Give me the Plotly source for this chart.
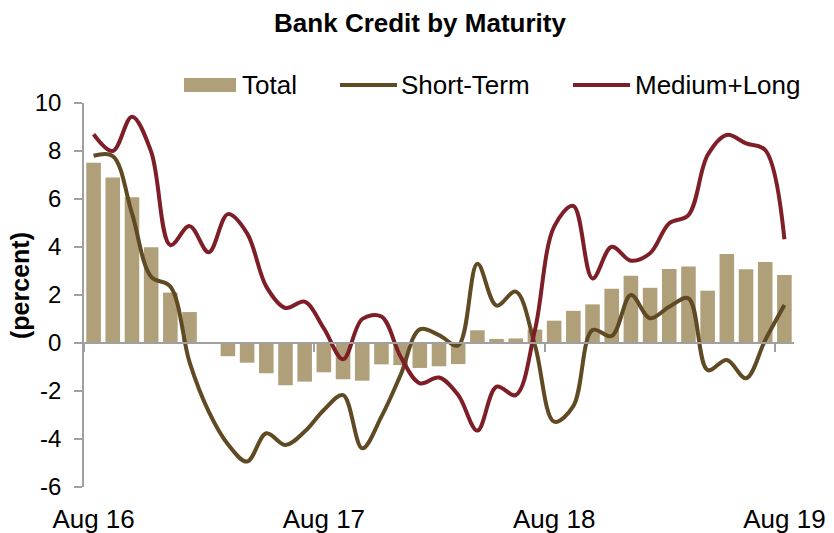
import plotly.graph_objects as go

# Monthly observations, Aug 2016 - Aug 2019
months = [
    "Aug 16", "Sep 16", "Oct 16", "Nov 16", "Dec 16", "Jan 17", "Feb 17", "Mar 17",
    "Apr 17", "May 17", "Jun 17", "Jul 17", "Aug 17", "Sep 17", "Oct 17", "Nov 17",
    "Dec 17", "Jan 18", "Feb 18", "Mar 18", "Apr 18", "May 18", "Jun 18", "Jul 18",
    "Aug 18", "Sep 18", "Oct 18", "Nov 18", "Dec 18", "Jan 19", "Feb 19", "Mar 19",
    "Apr 19", "May 19", "Jun 19", "Jul 19", "Aug 19",
]

total = [
    7.51, 6.90, 6.07, 3.99, 2.10, 1.29, 0.0, -0.55, -0.82, -1.26, -1.76, -1.61,
    -1.22, -1.51, -1.57, -0.89, -0.92, -1.04, -0.97, -0.88, 0.53, 0.17, 0.19, 0.56,
    0.93, 1.34, 1.61, 2.26, 2.80, 2.30, 3.08, 3.19, 2.18, 3.71, 3.07, 3.37, 2.83,
]

short_term = [
    7.80, 7.79, 5.40, 2.76, 2.35, -0.80, -2.86, -4.22, -4.94, -3.76, -4.25, -3.69,
    -2.79, -2.17, -4.39, -3.07, -1.33, 0.57, 0.33, -0.10, 3.30, 1.56, 2.14, -0.10,
    -3.28, -2.63, 0.54, 0.29, 2.00, 1.03, 1.51, 1.86, -1.13, -0.71, -1.47, 0.12, 1.58,
]

medium_long = [
    8.70, 8.00, 9.43, 7.97, 4.08, 4.87, 3.78, 5.37, 4.57, 2.35, 1.46, 1.72,
    0.61, -0.68, 1.00, 1.10, -0.57, -1.68, -1.44, -2.17, -3.65, -1.82, -2.17, 0.54,
    4.85, 5.71, 2.69, 4.01, 3.43, 3.74, 4.99, 5.33, 7.83, 8.67, 8.32, 8.04, 4.32,
]

year_labels = ["Aug 16", "Aug 17", "Aug 18", "Aug 19"]
y_ticks = [-6, -4, -2, 0, 2, 4, 6, 8, 10]
y_tick_text = ["-6", "-4", "-2", "0", "2", "4", "6", "8", "10"]

FONT = "Liberation Sans, Arial, sans-serif"
AXIS_GREY = "#A0A0A0"
BAR_COLOR = "#AFA07A"
SHORT_COLOR = "#5F4A23"
LONG_COLOR = "#7E1F28"

# plot-area geometry in pixels (used to place the legend row and axis title)
W, H = 834, 533
L, R, T, B = 84, 40, 103, 46
PW, PH = W - L - R, H - T - B


def px_x(px):
    return (px - L) / PW


def px_y(py):
    return (H - B - py) / PH


fig = go.Figure()

fig.add_trace(go.Bar(
    x=months, y=total, name="Total",
    marker=dict(color=BAR_COLOR, line=dict(width=0)),
    xaxis="x", yaxis="y",
))
fig.add_trace(go.Scatter(
    x=months, y=short_term, name="Short-Term", mode="lines",
    line=dict(color=SHORT_COLOR, width=4, shape="spline", smoothing=1.0),
    xaxis="x2", yaxis="y",
))
fig.add_trace(go.Scatter(
    x=months, y=medium_long, name="Medium+Long", mode="lines",
    line=dict(color=LONG_COLOR, width=4, shape="spline", smoothing=1.0),
    xaxis="x2", yaxis="y",
))

y_min, y_max = -6, 10
zero_pos = (0 - y_min) / (y_max - y_min)

# legend row: swatches + labels
legend_y = px_y(85)
legend_items = [
    ("Total", "bar", BAR_COLOR, 184, 236, 241),
    ("Short-Term", "line", SHORT_COLOR, 340, 397, 400),
    ("Medium+Long", "line", LONG_COLOR, 573, 630, 634),
]
shapes = []
annotations = []
for label, kind, color, x0, x1, tx in legend_items:
    if kind == "bar":
        shapes.append(dict(
            type="rect", xref="paper", yref="paper",
            x0=px_x(x0), x1=px_x(x1), y0=px_y(92), y1=px_y(78),
            fillcolor=color, line=dict(width=0),
        ))
    else:
        shapes.append(dict(
            type="line", xref="paper", yref="paper",
            x0=px_x(x0), x1=px_x(x1), y0=legend_y, y1=legend_y,
            line=dict(color=color, width=4),
        ))
    annotations.append(dict(
        text=label, xref="paper", yref="paper",
        x=px_x(tx), y=legend_y, xanchor="left", yanchor="middle",
        showarrow=False, borderpad=0,
        font=dict(family=FONT, size=26, color="black"),
    ))

annotations.append(dict(
    text="<b>(percent)</b>",
    xref="paper", yref="paper",
    x=px_x(20), y=px_y(286),
    xanchor="center", yanchor="middle",
    textangle=-90, showarrow=False,
    font=dict(family=FONT, size=25, color="black"),
))

fig.update_layout(
    width=W, height=H,
    margin=dict(l=L, r=R, t=T, b=B, autoexpand=False),
    paper_bgcolor="white", plot_bgcolor="white",
    font=dict(family=FONT, size=24, color="black"),
    bargap=0.24,
    showlegend=False,
    title=dict(
        text="<b>Bank Credit by Maturity</b>",
        font=dict(family=FONT, size=26, color="black"),
        x=420 / W, xanchor="center", xref="container",
        y=1 - 23 / H, yanchor="middle", yref="container",
    ),
    # zero line with year separators (bars' axis)
    xaxis=dict(
        type="category",
        range=[-0.5, len(months) - 0.5],
        anchor="free", position=zero_pos,
        showline=True, linecolor=AXIS_GREY, linewidth=1.5,
        tickmode="linear", tick0=0, dtick=12,
        tickson="boundaries",
        ticks="outside", ticklen=8, tickcolor=AXIS_GREY, tickwidth=1.5,
        showticklabels=False,
        showgrid=False, zeroline=False, automargin=False,
    ),
    # date labels along the bottom (lines' axis)
    xaxis2=dict(
        type="category",
        overlaying="x",
        anchor="y",
        range=[-0.5, len(months) - 0.5],
        showline=False, ticks="",
        tickmode="array", tickvals=year_labels, ticktext=year_labels,
        tickfont=dict(family=FONT, size=26, color="black"),
        ticklabelstandoff=14,
        showgrid=False, zeroline=False, automargin=False,
    ),
    yaxis=dict(
        range=[y_min, y_max],
        tickmode="array", tickvals=y_ticks, ticktext=y_tick_text,
        showline=True, linecolor=AXIS_GREY, linewidth=1.5,
        ticks="outside", ticklen=8, tickcolor=AXIS_GREY, tickwidth=1.5,
        tickfont=dict(family=FONT, size=24, color="black"),
        ticklabelstandoff=8,
        showgrid=False, zeroline=False, automargin=False,
    ),
    shapes=shapes,
    annotations=annotations,
)

fig.write_html("out.html")
